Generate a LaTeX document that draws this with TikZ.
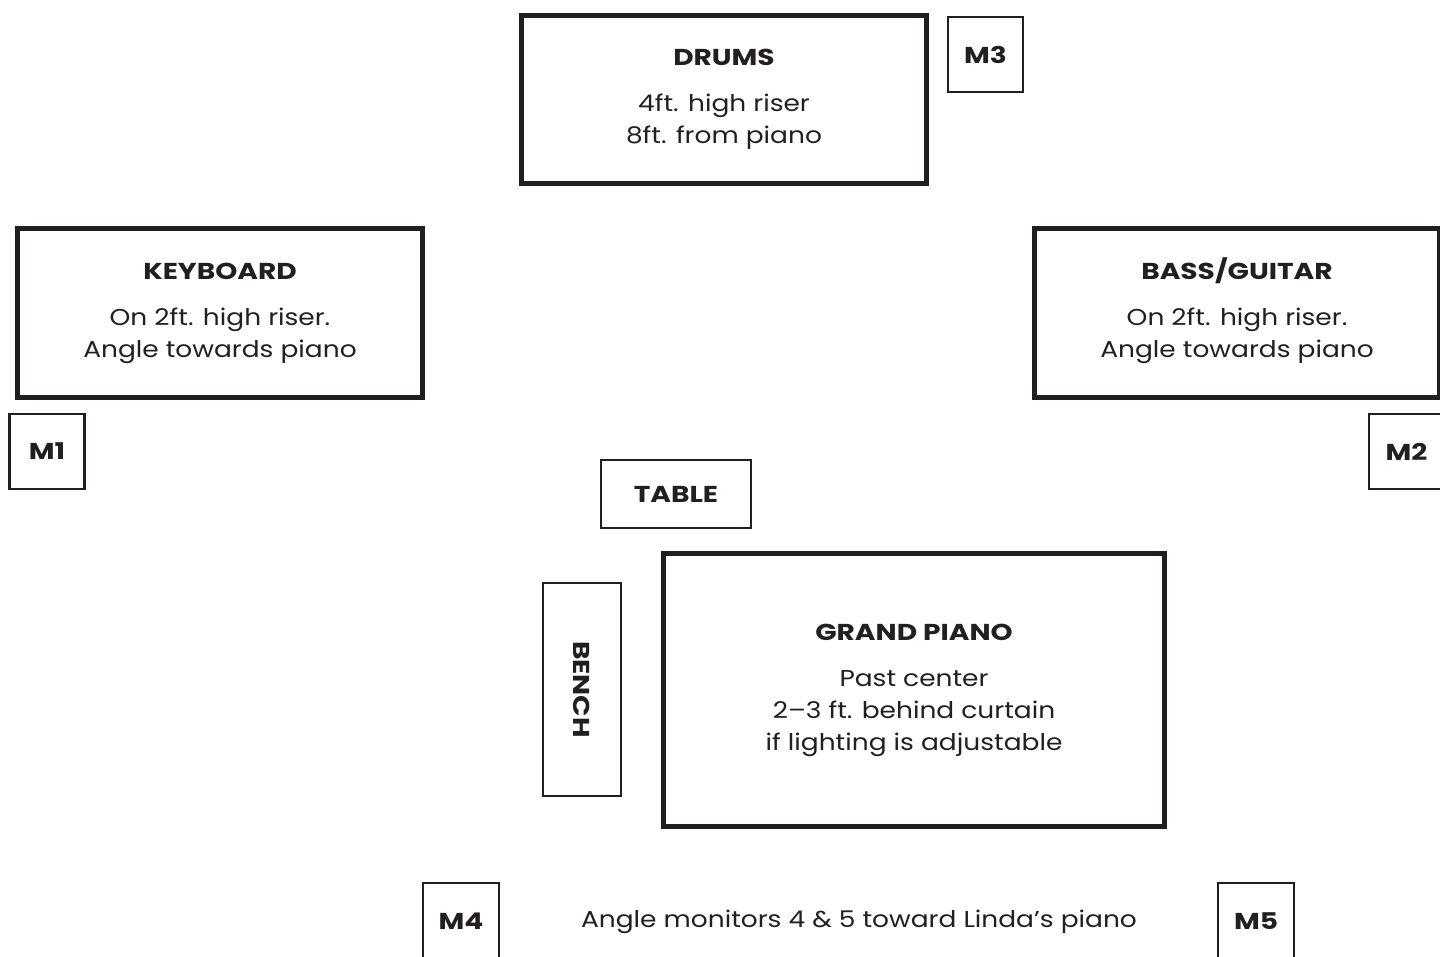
\documentclass[tikz,border=0pt]{standalone}
\usepackage{fontspec}
\setmainfont{Poppins}[FakeStretch=1.15,BoldFeatures={FakeStretch=1.22}]
\usetikzlibrary{positioning}
\definecolor{ink}{HTML}{231F20}

\tikzset{
  stage/.style={draw=ink, line width=5pt, align=center, inner sep=0pt, text=ink},
  monbox/.style={draw=ink, line width=2.5pt, minimum width=75pt, minimum height=75pt,
    inner sep=0pt, text=ink, font=\fontsize{23}{28}\selectfont\bfseries},
  smallbox/.style={draw=ink, line width=2.5pt, inner sep=0pt, text=ink,
    font=\fontsize{23}{28}\selectfont\bfseries},
}

\begin{document}
\begin{tikzpicture}[x=1pt,y=1pt,font=\fontsize{23}{32}\selectfont]
\clip (0,0) rectangle (1440,-957);
\fill[white] (0,0) rectangle (1440,-957);

% risers
\node[stage, minimum width=405pt, minimum height=168pt] (drums) at (724,-99.5)
  {\textbf{DRUMS}\\[14pt]4ft. high riser\\8ft. from piano};
\node[stage, minimum width=405pt, minimum height=169pt] (keys) at (220,-313)
  {\textbf{KEYBOARD}\\[14pt]On 2ft. high riser.\\Angle towards piano};
\node[stage, minimum width=405pt, minimum height=169pt] (bass) at (1237,-313)
  {\textbf{BASS\smash{/}GUITAR}\\[14pt]On 2ft. high riser.\\Angle towards piano};

% piano area
\node[stage, minimum width=501pt, minimum height=273pt] (piano) at (914,-690)
  {\textbf{GRAND PIANO}\\[14pt]Past center\\2--3 ft. behind curtain\\if lighting is adjustable};
\node[smallbox, minimum width=150pt, minimum height=68pt] (table) at (676,-494) {TABLE};
\node[smallbox, minimum width=213pt, minimum height=78pt, rotate=-90] (bench) at (582,-689.5) {BENCH};

% monitors
\node[monbox] (m1) at (47,-451.5) {M1};
\node[monbox] (m2) at (1406.5,-451.5) {M2};
\node[monbox] (m3) at (985.5,-54.5) {M3};
\node[monbox, minimum width=76pt, minimum height=76pt] (m4) at (461,-921) {M4};
\node[monbox, minimum width=76pt, minimum height=76pt] (m5) at (1256,-921) {M5};

\node[text=ink] (note) at (859,-922) {Angle monitors 4 \& 5 toward Linda’s piano};
\end{tikzpicture}
\end{document}
